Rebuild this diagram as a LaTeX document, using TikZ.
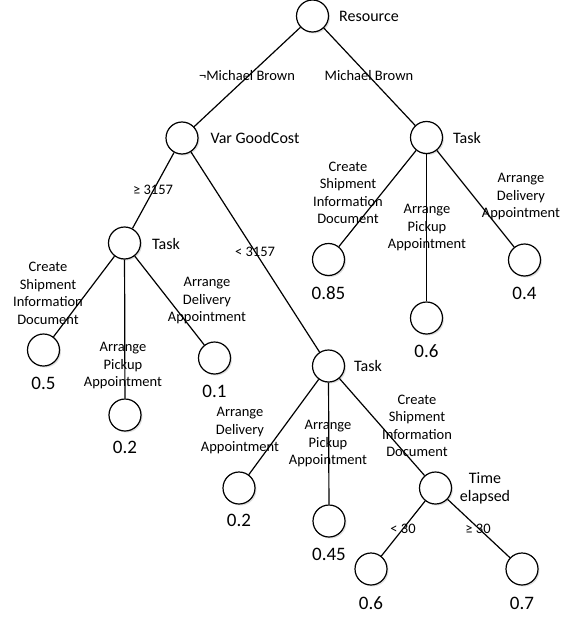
\documentclass[tikz,border=0pt]{standalone}
\usepackage{fontspec}
\setmainfont{Carlito}
\usetikzlibrary{shadows}
\begin{document}
\begin{tikzpicture}[x=1pt,y=-1pt,
  dnode/.style={circle,draw,line width=1.2pt,minimum size=32pt,inner sep=0pt,fill=white,
    drop shadow={shadow xshift=1.5pt,shadow yshift=-1.5pt,opacity=0.25,fill=gray}},
  edge/.style={line width=1.2pt},
  nlab/.style={font=\fontsize{16}{19}\selectfont,anchor=center,inner sep=0pt},
  elab/.style={font=\fontsize{14.5}{17.5}\selectfont,align=center,inner sep=0pt},
  vlab/.style={font=\fontsize{19}{21}\selectfont,inner sep=0pt}]
\useasboundingbox (0,0) rectangle (561,618);
% nodes
\node[dnode] (root) at (312.5,16) {};
\node[dnode] (vgc) at (182,138) {};
\node[dnode] (taskR) at (426.5,137.5) {};
\node[dnode] (taskL) at (124.5,243) {};
\node[dnode] (l05) at (43.5,350) {};
\node[dnode] (l02a) at (125,415) {};
\node[dnode] (l01) at (214.5,358) {};
\node[dnode] (r085) at (328.5,259.5) {};
\node[dnode] (r06) at (426.5,318) {};
\node[dnode] (r04) at (524.5,260) {};
\node[dnode] (taskM) at (328.5,366) {};
\node[dnode] (m02) at (239,488) {};
\node[dnode] (m045) at (329,521) {};
\node[dnode] (time) at (435.5,488) {};
\node[dnode] (t06) at (371,569) {};
\node[dnode] (t07) at (522,569) {};
% edges
\draw[edge] (root) -- (vgc);
\draw[edge] (root) -- (taskR);
\draw[edge] (vgc) -- (taskL);
\draw[edge] (vgc) -- (taskM);
\draw[edge] (taskL) -- (l05);
\draw[edge] (taskL) -- (l02a);
\draw[edge] (taskL) -- (l01);
\draw[edge] (taskR) -- (r085);
\draw[edge] (taskR) -- (r06);
\draw[edge] (taskR) -- (r04);
\draw[edge] (taskM) -- (m02);
\draw[edge] (taskM) -- (m045);
\draw[edge] (taskM) -- (time);
\draw[edge] (time) -- (t06);
\draw[edge] (time) -- (t07);
% node labels
\node[nlab] (lroot) at (369,16) {Resource};
\node[nlab] (lvgc) at (255,138) {Var GoodCost};
\node[nlab] (ltaskR) at (467,138) {Task};
\node[nlab] (ltaskL) at (166,244) {Task};
\node[nlab] (ltaskM) at (368,366) {Task};
\node[nlab,align=center,font=\fontsize{16}{18}\selectfont] (ltime) at (485,488) {Time\\elapsed};
% values
\node[vlab] (v05) at (43.5,383) {0.5};
\node[vlab] (v02a) at (125,447) {0.2};
\node[vlab] (v01) at (214.5,391) {0.1};
\node[vlab] (v085) at (328.5,293) {0.85};
\node[vlab] (v06a) at (426.5,351) {0.6};
\node[vlab] (v04) at (524.5,293) {0.4};
\node[vlab] (v02b) at (239,520) {0.2};
\node[vlab] (v045) at (329,554) {0.45};
\node[vlab] (v06b) at (371,603) {0.6};
\node[vlab] (v07) at (522,603) {0.7};
% edge labels
\node[elab] (e1) at (247,76) {¬Michael Brown};
\node[elab] (e2) at (369,76) {Michael Brown};
\node[elab] (e3) at (153,190) {≥ 3157};
\node[elab] (e4) at (255,252) {< 3157};
\node[elab] (e5) at (348,193) {Create\\Shipment\\Information\\Document};
\node[elab] (e6) at (427,228) {Arrange\\Pickup\\Appointment};
\node[elab] (e7) at (521,197) {Arrange\\Delivery\\Appointment};
\node[elab] (e8) at (48,293.5) {Create\\Shipment\\Information\\Document};
\node[elab] (e9) at (123,366) {Arrange\\Pickup\\Appointment};
\node[elab] (e10) at (207,301) {Arrange\\Delivery\\Appointment};
\node[elab] (e11) at (240,431) {Arrange\\Delivery\\Appointment};
\node[elab] (e12) at (328,444) {Arrange\\Pickup\\Appointment};
\node[elab] (e13) at (417,426) {Create\\Shipment\\Information\\Document};
\node[elab] (e14) at (403,529) {< 30};
\node[elab] (e15) at (478,529) {≥ 30};
\end{tikzpicture}
\end{document}
